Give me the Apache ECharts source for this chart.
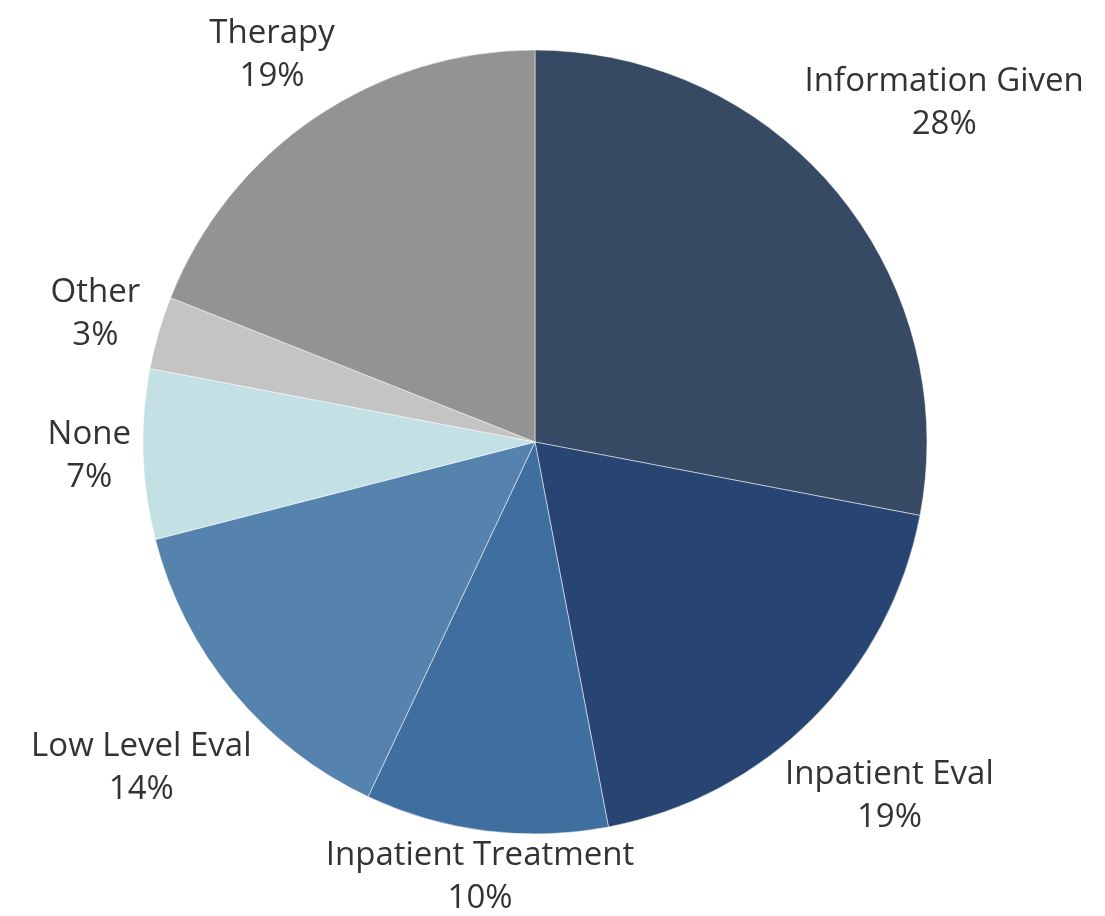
<!DOCTYPE html>
<html>
<head>
<meta charset="utf-8">
<script src="https://cdn.jsdelivr.net/npm/echarts@6/dist/echarts.min.js"></script>
<style>
  html, body { margin: 0; padding: 0; background: #fff; }
  #main { width: 1105px; height: 916px; }
</style>
</head>
<body>
<div id="main"></div>
<script>
// slice order clockwise from 12 o'clock
var categories = ['Information Given', 'Inpatient Eval', 'Inpatient Treatment', 'Low Level Eval', 'None', 'Other', 'Therapy']
var values = [28, 19, 10, 14, 7, 3, 19]
var colors = ['#364a63', '#284473', '#3f6f9e', '#5583ae', '#c3e0e5', '#c4c4c4', '#939393']

var CX = 535
var CY = 442
var R = 392
var PAD_X = 12 // extra room left and right of each label

var total = values.reduce(function (a, b) { return a + b }, 0)
// mid angle of every slice, measured clockwise from the top
var midAngles = []
var acc = 0
for (var i = 0; i < values.length; i++) {
  midAngles.push((acc + values[i] / 2) / total * Math.PI * 2)
  acc += values[i]
}

// distance from centre to the nearest point of a box centred at (px, py)
function boxDist(px, py, w, h) {
  var x = Math.max(px - w / 2, Math.min(0, px + w / 2))
  var y = Math.max(py - h / 2, Math.min(0, py + h / 2))
  return Math.sqrt(x * x + y * y)
}

var chart = echarts.init(document.getElementById('main'))

var option = {
  animation: false,
  series: [
    {
      type: 'pie',
      center: [CX, CY],
      radius: R,
      startAngle: 90,
      clockwise: true,
      avoidLabelOverlap: false,
      itemStyle: {
        borderColor: 'rgba(255,255,255,0.5)',
        borderWidth: 1
      },
      label: {
        show: true,
        position: 'outside',
        formatter: '{b}\n{c}%',
        fontFamily: 'Open Sans',
        fontSize: 33,
        lineHeight: 43,
        color: '#333333',
        align: 'center'
      },
      labelLine: { show: false },
      // push each label out along its slice's mid angle until it clears the rim
      labelLayout: function (params) {
        var a = midAngles[params.dataIndex]
        var dx = Math.sin(a)
        var dy = -Math.cos(a)
        var w = params.labelRect.width + PAD_X * 2
        var h = params.labelRect.height
        var lo = 0
        var hi = R + 600
        for (var k = 0; k < 40; k++) {
          var mid = (lo + hi) / 2
          if (boxDist(dx * mid, dy * mid, w, h) < R) lo = mid
          else hi = mid
        }
        return {
          x: CX + dx * hi,
          y: CY + dy * hi,
          align: 'center',
          verticalAlign: 'middle'
        }
      },
      data: categories.map(function (name, idx) {
        return { name: name, value: values[idx], itemStyle: { color: colors[idx] } }
      })
    }
  ]
}

chart.setOption(option)
</script>
</body>
</html>
